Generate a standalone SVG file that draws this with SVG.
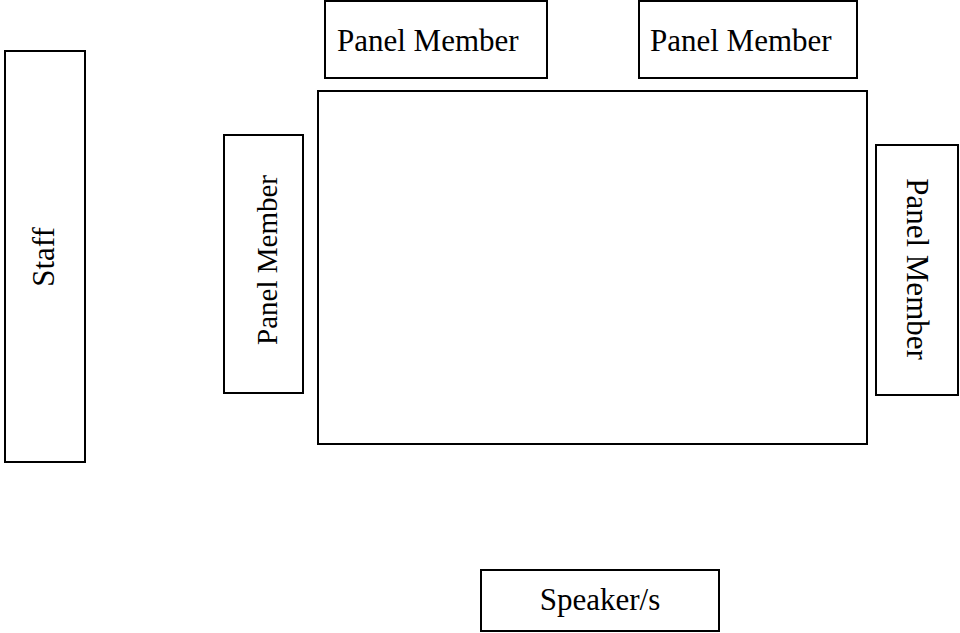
<svg xmlns="http://www.w3.org/2000/svg" width="960" height="633" viewBox="0 0 960 633">
<style>
.box{fill:#fff;stroke:#000;stroke-width:2}
.t{font-family:"Liberation Serif","Times New Roman",serif;font-size:31px;fill:#000}
</style>
<rect width="960" height="633" fill="#fff"/>
<g id="table"><rect class="box" x="318" y="91" width="549" height="353" stroke-width="2.5"/></g>
<g id="staff"><rect class="box" x="5" y="51" width="80" height="411"/><text class="t" text-anchor="middle" transform="translate(54,257) rotate(-90)">Staff</text></g>
<g id="panel-left"><rect class="box" x="224" y="135" width="79" height="258"/><text class="t" text-anchor="middle" style="font-size:29px" transform="translate(277,260) rotate(-90)">Panel Member</text></g>
<g id="panel-top-1"><rect class="box" x="325" y="1" width="222" height="77"/><text class="t" x="337" y="51">Panel Member</text></g>
<g id="panel-top-2"><rect class="box" x="639" y="1" width="218" height="77"/><text class="t" x="650" y="51">Panel Member</text></g>
<g id="panel-right"><rect class="box" x="876" y="145" width="82" height="250"/><text class="t" text-anchor="middle" transform="translate(907,269) rotate(90)">Panel Member</text></g>
<g id="speaker"><rect class="box" x="481" y="570" width="238" height="61"/><text class="t" x="600" y="610" text-anchor="middle">Speaker/s</text></g>
<g id="connectors"></g>
</svg>
